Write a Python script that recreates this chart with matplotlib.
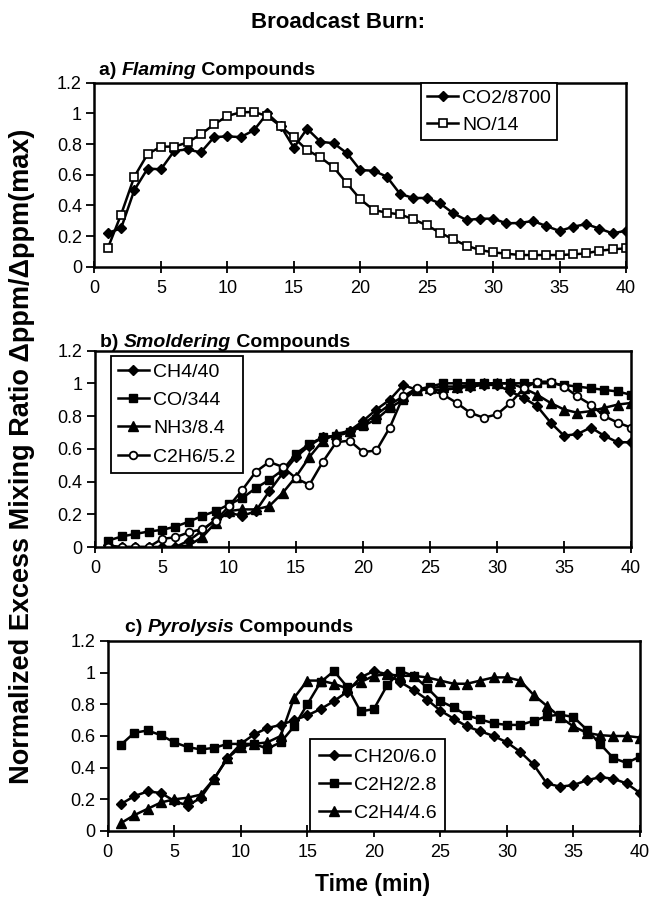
import matplotlib
matplotlib.use('Agg')
import matplotlib.pyplot as plt

plt.rcParams['font.family'] = ['Liberation Sans', 'DejaVu Sans']

time_min = list(range(1, 41))

# a) flaming
co2 = [0.22, 0.25, 0.50, 0.64, 0.635, 0.755, 0.765, 0.745, 0.845, 0.85,
       0.845, 0.89, 1.0, 0.92, 0.776, 0.90, 0.815, 0.805, 0.74, 0.63,
       0.626, 0.587, 0.474, 0.448, 0.448, 0.413, 0.348, 0.304, 0.313, 0.313,
       0.283, 0.285, 0.298, 0.265, 0.233, 0.26, 0.278, 0.248, 0.217, 0.235]
no = [0.12, 0.34, 0.587, 0.735, 0.783, 0.783, 0.81, 0.863, 0.928, 0.983,
      1.007, 1.009, 0.983, 0.917, 0.843, 0.76, 0.713, 0.648, 0.543, 0.44,
      0.37, 0.352, 0.341, 0.309, 0.27, 0.222, 0.178, 0.137, 0.109, 0.093,
      0.085, 0.076, 0.076, 0.076, 0.076, 0.08, 0.087, 0.104, 0.113, 0.12]

# b) smoldering
ch4 = [0.01, 0.0, 0.0, 0.0, 0.0, 0.0, 0.04, 0.10, 0.17, 0.21,
       0.19, 0.22, 0.34, 0.45, 0.55, 0.62, 0.67, 0.68, 0.71, 0.77,
       0.84, 0.90, 0.99, 0.96, 0.96, 0.96, 0.97, 0.98, 0.99, 0.99,
       0.95, 0.91, 0.86, 0.76, 0.68, 0.69, 0.73, 0.68, 0.64, 0.64]
co = [0.04, 0.065, 0.08, 0.095, 0.105, 0.125, 0.155, 0.19, 0.22, 0.26,
      0.30, 0.36, 0.41, 0.47, 0.57, 0.63, 0.67, 0.68, 0.70, 0.74,
      0.78, 0.85, 0.90, 0.96, 0.98, 1.0, 1.0, 1.0, 1.0, 1.0,
      1.0, 1.0, 1.0, 1.0, 0.99, 0.98, 0.97, 0.96, 0.95, 0.93]
nh3 = [0.0, 0.0, 0.0, 0.0, 0.0, 0.0, 0.01, 0.06, 0.15, 0.22,
       0.23, 0.23, 0.25, 0.33, 0.43, 0.55, 0.65, 0.69, 0.71, 0.75,
       0.81, 0.87, 0.92, 0.96, 0.97, 0.98, 0.98, 0.99, 1.0, 1.0,
       1.0, 0.97, 0.93, 0.88, 0.84, 0.82, 0.83, 0.85, 0.87, 0.88]
c2h6 = [0.0, 0.0, 0.0, 0.0, 0.05, 0.06, 0.09, 0.11, 0.16, 0.25,
        0.35, 0.46, 0.52, 0.49, 0.42, 0.38, 0.52, 0.64, 0.65, 0.58,
        0.59, 0.73, 0.92, 0.97, 0.96, 0.93, 0.88, 0.82, 0.79, 0.81,
        0.88, 0.97, 1.01, 1.01, 0.98, 0.92, 0.87, 0.80, 0.76, 0.73]

# c) pyrolysis
ch2o = [0.17, 0.22, 0.25, 0.24, 0.19, 0.16, 0.21, 0.33, 0.46, 0.55,
        0.61, 0.65, 0.67, 0.70, 0.73, 0.77, 0.82, 0.88, 0.97, 1.01,
        0.99, 0.94, 0.89, 0.83, 0.76, 0.71, 0.66, 0.63, 0.60, 0.56,
        0.50, 0.42, 0.30, 0.28, 0.29, 0.32, 0.34, 0.33, 0.30, 0.24]
c2h2 = [0.545, 0.62, 0.635, 0.605, 0.56, 0.53, 0.515, 0.525, 0.55, 0.55,
        0.55, 0.52, 0.56, 0.66, 0.80, 0.94, 1.01, 0.91, 0.755, 0.77,
        0.92, 1.01, 0.98, 0.905, 0.82, 0.78, 0.73, 0.705, 0.68, 0.67,
        0.67, 0.695, 0.725, 0.735, 0.72, 0.64, 0.55, 0.46, 0.43, 0.47]
c2h4 = [0.05, 0.10, 0.14, 0.18, 0.20, 0.21, 0.23, 0.33, 0.46, 0.53,
        0.55, 0.56, 0.60, 0.84, 0.95, 0.95, 0.93, 0.90, 0.94, 0.98,
        0.99, 0.98, 0.98, 0.97, 0.95, 0.93, 0.93, 0.95, 0.97, 0.97,
        0.95, 0.86, 0.79, 0.72, 0.66, 0.62, 0.605, 0.60, 0.60, 0.59]

y_ticks = [0, 0.2, 0.4, 0.6, 0.8, 1.0, 1.2]
y_ticklabels = ['0', '0.2', '0.4', '0.6', '0.8', '1', '1.2']

FILLED_DIAMOND = dict(marker='D', ms=5, mfc='black', mec='black')
OPEN_SQUARE = dict(marker='s', ms=5.5, mfc='white', mec='black', mew=1.2)
FILLED_SQUARE = dict(marker='s', ms=5.5, mfc='black', mec='black')
FILLED_TRI = dict(marker='^', ms=6.5, mfc='black', mec='black')
OPEN_CIRCLE = dict(marker='o', ms=5.5, mfc='white', mec='black', mew=1.3)

fig = plt.figure(figsize=(6.53, 8.97), dpi=100, facecolor='white')
ax_a = fig.add_axes([0.1447, 0.7027, 0.814, 0.2051])
ax_b = fig.add_axes([0.1455, 0.3901, 0.8208, 0.2191])
ax_c = fig.add_axes([0.1649, 0.0736, 0.8152, 0.2118])


def style_axes(ax):
    ax.set_xlim(0, 40)
    ax.set_ylim(0, 1.2)
    ax.set_xticks(range(0, 41, 5))
    ax.set_yticks(y_ticks)
    ax.set_yticklabels(y_ticklabels)
    ax.tick_params(axis='x', direction='inout', length=9, width=1.3,
                   labelsize=13, pad=5)
    ax.tick_params(axis='y', direction='out', length=6, width=1.3,
                   labelsize=13, pad=3)
    for s in ax.spines.values():
        s.set_linewidth(1.8)


def panel_title(ax, x, y, letter, word):
    renderer = fig.canvas.get_renderer()
    t = ax.text(x, y, letter + ' ', transform=ax.transAxes, fontsize=14,
                fontweight='bold', va='bottom')
    t.draw(renderer)
    t = ax.annotate(word, xy=(1, 0), xycoords=t, va='bottom', fontsize=14,
                    fontweight='bold', fontstyle='italic')
    t.draw(renderer)
    ax.annotate(' Compounds', xy=(1, 0), xycoords=t, va='bottom',
                fontsize=14, fontweight='bold')


def add_legend(ax, spacing, pad, **kw):
    leg = ax.legend(fontsize=14, frameon=True, fancybox=False,
                    edgecolor='black', framealpha=1, handlelength=1.6,
                    handletextpad=0.2, borderpad=pad, labelspacing=spacing,
                    borderaxespad=0, **kw)
    leg.get_frame().set_linewidth(1.3)


line_kw = dict(color='black', lw=1.8)

# panel a
ax_a.plot(time_min, co2, label='CO2/8700', **line_kw, **FILLED_DIAMOND)
ax_a.plot(time_min, no, label='NO/14', **line_kw, **OPEN_SQUARE)
style_axes(ax_a)
add_legend(ax_a, 0.5, 0.32, loc='upper right', bbox_to_anchor=(0.871, 1.0))
panel_title(ax_a, 0.008, 1.02, 'a)', 'Flaming')

# panel b
ax_b.plot(time_min, ch4, label='CH4/40', **line_kw, **FILLED_DIAMOND)
ax_b.plot(time_min, co, label='CO/344', **line_kw, **FILLED_SQUARE)
ax_b.plot(time_min, nh3, label='NH3/8.4', **line_kw, **FILLED_TRI)
ax_b.plot(time_min, c2h6, label='C2H6/5.2', **line_kw, **OPEN_CIRCLE)
style_axes(ax_b)
add_legend(ax_b, 0.55, 0.38, loc='upper left', bbox_to_anchor=(0.029, 0.974))
panel_title(ax_b, 0.009, 1.0, 'b)', 'Smoldering')

# panel c
ax_c.plot(time_min, ch2o, label='CH20/6.0', **line_kw, **FILLED_DIAMOND)
ax_c.plot(time_min, c2h2, label='C2H2/2.8', **line_kw, **FILLED_SQUARE)
ax_c.plot(time_min, c2h4, label='C2H4/4.6', **line_kw, **FILLED_TRI)
style_axes(ax_c)
add_legend(ax_c, 0.55, 0.45, loc='lower left', bbox_to_anchor=(0.38, 0.0))
panel_title(ax_c, 0.0325, 1.025, 'c)', 'Pyrolysis')

fig.text(0.518, 0.975, 'Broadcast Burn:', ha='center', va='center',
         fontsize=16, fontweight='bold')
fig.text(0.034, 0.4916, 'Normalized Excess Mixing Ratio \u0394ppm/\u0394ppm(max)',
         rotation=90, ha='center', va='center', fontsize=19.5, fontweight='bold')
fig.text(0.57, 0.0134, 'Time (min)', ha='center', va='center',
         fontsize=16.5, fontweight='bold')

fig.savefig('out.png', dpi=100, facecolor='white')
